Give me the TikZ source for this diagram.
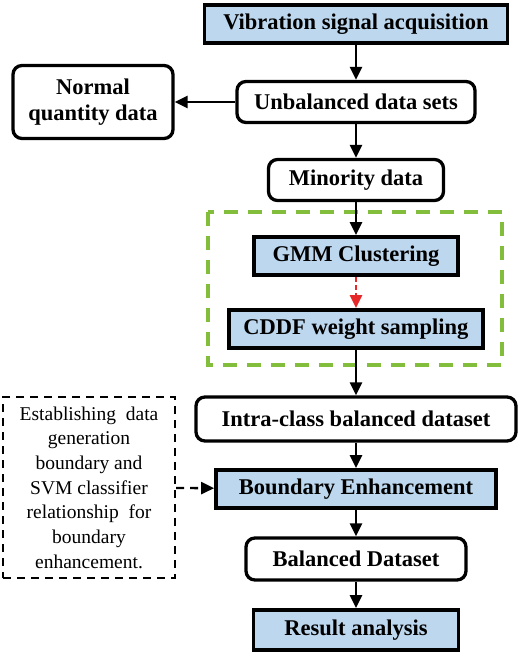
\documentclass[tikz,border=0pt]{standalone}
\usepackage{fontspec}
\setmainfont{Liberation Serif}
\usetikzlibrary{arrows.meta}
\definecolor{boxblue}{RGB}{189,215,238}
\definecolor{dashgreen}{RGB}{130,190,60}
\definecolor{arrowred}{RGB}{230,40,40}
\begin{document}
\begin{tikzpicture}[
  x=1pt, y=-1pt,
  bluebox/.style={draw, line width=3.8pt, fill=boxblue, minimum height=38pt,
    inner sep=0pt, font=\fontsize{22.5}{26}\selectfont\bfseries},
  roundbox/.style={draw, line width=3.3pt, fill=white, rounded corners=9pt, minimum height=41pt,
    inner sep=0pt, font=\fontsize{22.5}{26}\selectfont\bfseries},
  notebox/.style={draw, line width=2.2pt, dash pattern=on 8pt off 6pt, inner sep=0pt,
    align=center, font=\fontsize{19.5}{24.7}\selectfont},
  flow/.style={line width=2.3pt, -{Triangle[length=13pt,width=12pt]}}
  ]
	\useasboundingbox (0,0) rectangle (520,659);

	% green frame around the sampling steps
	\draw[dashgreen, line width=3.2pt, dash pattern=on 14pt off 10pt] (208,212) rectangle (502,365);

	\node[bluebox, minimum width=303pt] (vib) at (356,24) {Vibration signal acquisition};
	\node[roundbox, minimum width=238pt] (unb) at (356,102) {Unbalanced data sets};
	\node[roundbox, minimum width=160pt, minimum height=73pt, align=center] (normal) at (93,102) {Normal\\quantity data};
	\node[roundbox, minimum width=175pt] (minor) at (356,180) {Minority data};

	\node[bluebox, minimum width=204pt] (gmm) at (356,256) {GMM Clustering};
	\node[bluebox, minimum width=254pt] (cddf) at (356,329) {CDDF weight sampling};

	\node[roundbox, minimum width=320pt, minimum height=44pt] (intra) at (356,419) {Intra-class balanced dataset};
	\node[notebox, minimum width=172pt, minimum height=181pt] (note) at (89,487.5)
	  {Establishing\ \ data\\generation\\boundary and\\SVM classifier\\relationship\ \ for\\boundary\\enhancement.};
	\node[bluebox, minimum width=280pt] (bound) at (356,489) {Boundary Enhancement};
	\node[roundbox, minimum width=220pt, minimum height=42pt] (bal) at (356,559) {Balanced Dataset};
	\node[bluebox, minimum width=205pt, minimum height=40pt] (res) at (356,630) {Result analysis};

	\draw[flow] (vib) -- (unb);
	\draw[flow] (unb) -- (normal);
	\draw[flow] (unb) -- (minor);
	\draw[flow] (minor) -- (gmm);
	\draw[flow, arrowred, dash pattern=on 5pt off 3pt] (gmm) -- (cddf);
	\draw[flow] (cddf) -- (intra);
	\draw[flow] (intra) -- (bound);
	\draw[flow, dash pattern=on 8pt off 6pt] (note) -- (bound);
	\draw[flow] (bound) -- (bal);
	\draw[flow] (bal) -- (res);
\end{tikzpicture}
\end{document}
